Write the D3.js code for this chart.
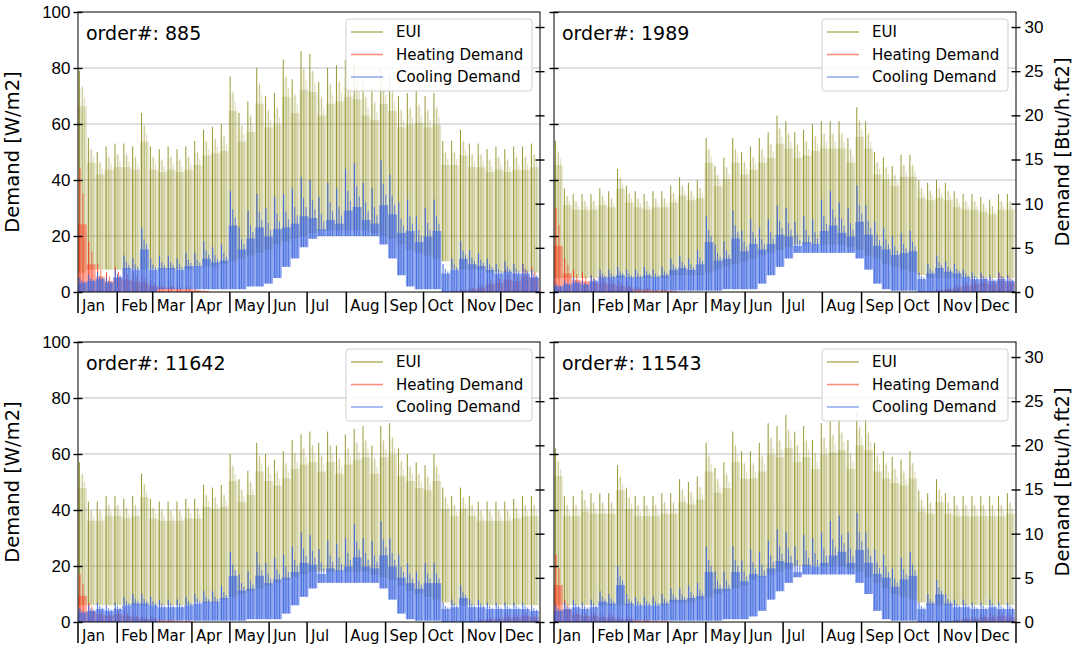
<!DOCTYPE html>
<html lang="en">
<head>
<meta charset="UTF-8">
<title>Hourly demand profiles</title>
<script src="https://d3js.org/d3.v7.min.js"></script>
<style>
  body { margin: 0; background: #fff; }
  svg { font-family: "DejaVu Sans", sans-serif; }
  .grid line { stroke: #b0b0b0; stroke-opacity: 0.8; }
</style>
</head>
<body>
<div id="chart"></div>
<script>
// month ticks (day of year) and labels
const monthStarts = [0, 31, 59, 90, 120, 151, 181, 212, 243, 273, 304, 334, 365];
const monthNames = ["Jan", "Feb", "Mar", "Apr", "May", "Jun", "Jul", "Aug", "Sep", "Oct", "Nov", "Dec"];
const wTicks = [0, 20, 40, 60, 80, 100];
const btuTicks = [0, 5, 10, 15, 20, 25, 30];
const W_PER_BTU = 3.1546;
const seriesNames = ["EUI", "Heating Demand", "Cooling Demand"];

// weekly values (52 weeks), W/m2
const order885 = "885";
const euiHi885 = [79,55,50,52,53,53,52,64,52,51,52,51,52,54,58,59,60,77,64,68,80,70,71,83,76,86,85,75,80,81,83,82,75,73,80,77,70,71,72,70,71,54,54,58,53,53,51,52,51,52,52,53];
const euiLo885 = [7,8,8,8,8,8,8,8,8,8,8,8,8,9,9,9,10,11,12,13,14,15,17,18,19,20,21,22,22,22,22,22,22,21,20,19,17,15,14,13,12,11,8,8,8,8,7,7,7,7,7,7];
const heatHi885 = [44,18,10,7,9,8,7,6,4,3,3,2,2,1,0.5,0,0,0,0,0,0,0,0,0,0,0,0,0,0,0,0,0,0,0,0,0,0,0,0,0,0,0,0.5,1,2,3,5,6,8,7,10,9];
const coolHi885 = [5,6,7,5,8,13,12,23,12,13,13,12,14,14,18,16,17,36,23,29,35,30,34,35,37,41,40,34,39,37,44,46,39,37,47,42,32,33,27,30,33,10,12,18,15,14,12,10,11,10,10,8];
const coolLo885 = [0,0,0,0,0,0,0,0,0,1,1,1,1,1,1,1,1,1,1,2,2,3,5,9,12,16,19,20,20,20,20,20,20,20,17,12,6,2,1,1,1,0,0,0,0,0,0,0,0,0,0,0];

const order1989 = "1989";
const euiHi1989 = [54,37,35,35,35,37,36,44,38,36,35,36,36,38,41,39,40,55,45,48,55,50,52,55,57,63,61,57,58,60,61,61,61,55,66,61,50,48,45,49,49,40,39,40,39,36,35,35,34,33,35,35];
const euiLo1989 = [5,5,5,5,5,5,5,5,5,5,5,5,5,6,6,6,6,7,8,9,10,11,12,13,14,15,16,17,17,17,17,17,17,16,15,13,12,10,9,8,7,6,5,5,5,5,5,5,5,5,5,5];
const heatHi1989 = [30,12,8,7,6,6,5,4,3,2,2,1,1,0.5,0,0,0,0,0,0,0,0,0,0,0,0,0,0,0,0,0,0,0,0,0,0,0,0,0,0,0,0,0,1,2,3,4,5,6,5,7,6];
const coolHi1989 = [3,4,5,4,6,8,8,9,8,8,9,8,9,12,13,12,15,27,17,18,29,22,26,23,26,31,30,25,27,26,33,36,32,30,38,31,25,23,20,21,22,7,10,13,11,10,8,7,7,6,7,6];
const coolLo1989 = [0,0,0,0,0,0,0,0,0,0.5,0.5,0.5,0.5,0.5,0.5,0.5,0.5,0.5,0.5,1,1,1,1,3,6,9,12,14,14,14,14,14,14,14,12,8,3,1,0.5,0.5,0.5,0,0,0,0,0,0,0,0,0,0,0];

const order11642 = "11642";
const euiHi11642 = [57,43,43,45,45,44,45,53,44,43,43,43,44,44,49,48,49,60,51,54,64,60,58,61,65,67,68,64,68,63,67,69,70,63,70,71,62,60,57,56,60,48,45,48,45,43,43,43,43,44,45,45];
const euiLo11642 = [6,6,6,6,6,6,6,6,6,6,6,6,6,7,7,7,8,9,10,11,12,13,14,15,16,17,18,18,18,18,18,18,18,17,16,15,13,11,10,9,8,7,6,6,6,6,6,6,6,6,6,6];
const heatHi11642 = [17,7,5,4,5,4,3,2,2,1,1,0.5,0.5,0,0,0,0,0,0,0,0,0,0,0,0,0,0,0,0,0,0,0,0,0,0,0,0,0,0,0,0,0,0,0,0,1,2,2,3,3,4,3];
const coolHi11642 = [5,6,7,6,7,9,10,10,9,8,8,8,9,10,11,11,13,25,17,18,25,21,23,24,27,32,31,26,29,28,30,35,30,29,36,30,24,21,18,21,21,7,8,13,8,8,7,7,7,7,7,6];
const coolLo11642 = [0,0,0,0,0,0,0,0,0,0.5,0.5,0.5,0.5,0.5,0.5,0.5,0.5,0.5,0.5,1,1,1,1,3,6,9,12,14,14,14,14,14,14,14,12,8,3,1,0.5,0.5,0.5,0,0,0,0,0,0,0,0,0,0,0];

const order11543 = "11543";
const euiHi11543 = [62,45,45,47,46,46,46,56,48,45,45,45,46,46,51,50,52,64,55,57,68,61,61,64,71,70,74,68,70,65,71,72,73,65,75,73,64,61,59,58,61,47,46,51,46,45,45,45,45,45,45,46];
const euiLo11543 = [6,6,6,6,6,6,6,6,6,6,6,6,6,7,7,7,8,9,10,11,12,13,15,16,17,18,19,20,20,20,20,20,20,19,18,16,14,12,10,9,8,7,6,6,6,6,6,6,6,6,6,6];
const heatHi11543 = [24,8,5,4,4,3,3,2,2,1,1,0.5,0.5,0,0,0,0,0,0,0,0,0,0,0,0,0,0,0,0,0,0,0,0,0,0,0,0,0,0,0,0,0,0,0,0,1,2,2,3,3,4,3];
const coolHi11543 = [6,7,8,7,8,11,10,20,10,9,9,9,10,12,12,13,14,27,18,18,27,22,26,25,29,33,32,27,31,30,32,36,38,32,39,32,26,24,19,23,25,7,10,15,10,8,8,7,7,8,7,7];
const coolLo11543 = [0,0,0,0,0,0,0,0,0,0.5,0.5,0.5,0.5,0.5,0.5,0.5,0.5,0.5,0.5,1,1,1,2,4,8,11,14,16,17,17,17,17,17,17,14,10,4,1,0.5,0.5,0.5,0,0,0,0,0,0,0,0,0,0,0];

// layout
const panels = [
  {order: order885,   euiHi: euiHi885,   euiLo: euiLo885,   heat: heatHi885,   coolHi: coolHi885,   coolLo: coolLo885,   x: 78,  y: 12,  left: true},
  {order: order1989,  euiHi: euiHi1989,  euiLo: euiLo1989,  heat: heatHi1989,  coolHi: coolHi1989,  coolLo: coolLo1989,  x: 554, y: 12,  left: false},
  {order: order11642, euiHi: euiHi11642, euiLo: euiLo11642, heat: heatHi11642, coolHi: coolHi11642, coolLo: coolLo11642, x: 78,  y: 342, left: true},
  {order: order11543, euiHi: euiHi11543, euiLo: euiLo11543, heat: heatHi11543, coolHi: coolHi11543, coolLo: coolLo11543, x: 554, y: 342, left: false}
];
const W = 462, H = 280;
const colEUI = "#808000", colHeat = "#ff3c20", colCool = "#4169e1";

const svg = d3.select("#chart").append("svg")
  .attr("width", 1081)
  .attr("height", 648);

const x = d3.scaleLinear().domain([0, 365]).range([0, W]);
const y = d3.scaleLinear().domain([0, 100]).range([H, 0]);
const yBtu = d3.scaleLinear().domain([0, 100 / W_PER_BTU]).range([H, 0]);

const band = d3.area()
  .x(d => x(d.day))
  .y0(d => y(d.lo))
  .y1(d => y(d.hi));

// band covering days a..b of week i
function weekBand(i, a, b, lo, hi) {
  return band([{day: 7 * i + a, lo: lo, hi: hi}, {day: 7 * i + b, lo: lo, hi: hi}]);
}

// vertical spikes inside each week: [day offset, share of the weekly peak, opacity, width]
function spikes(parent, weeks, lo, hi, color, marks) {
  marks.forEach(m => {
    parent.append("g").selectAll("line").data(weeks).join("line")
      .attr("x1", i => x(7 * i + m[0])).attr("x2", i => x(7 * i + m[0]))
      .attr("y1", i => y(lo(i))).attr("y2", i => y(hi(i) * m[1]))
      .attr("stroke", color).attr("stroke-opacity", m[2]).attr("stroke-width", m[3]);
  });
}

panels.forEach(p => {
  const g = svg.append("g").attr("transform", `translate(${p.x},${p.y})`);

  g.append("defs").append("clipPath").attr("id", "clip" + p.order)
    .append("rect").attr("width", W).attr("height", H);

  // grid
  g.append("g").attr("class", "grid")
    .selectAll("line").data([20, 40, 60, 80]).join("line")
    .attr("x1", 0).attr("x2", W)
    .attr("y1", d => y(d)).attr("y2", d => y(d));

  const plot = g.append("g").attr("clip-path", `url(#clip${p.order})`);
  const weeks = d3.range(p.euiHi.length);

  // EUI
  plot.append("g").selectAll("path").data(weeks).join("path")
    .attr("d", i => weekBand(i, 0, 7, p.euiLo[i], p.euiHi[i] * 0.84))
    .attr("fill", colEUI).attr("fill-opacity", 0.2);
  plot.append("g").selectAll("path").data(weeks).join("path")
    .attr("d", i => weekBand(i, 0.6, 4.6, p.euiLo[i], p.euiHi[i] * 0.92))
    .attr("fill", colEUI).attr("fill-opacity", 0.08);
  spikes(plot, weeks, i => p.euiLo[i], i => p.euiHi[i], colEUI,
    [[1.2, 1, 0.8, 1], [3.4, 0.93, 0.5, 0.8], [5.2, 0.88, 0.35, 0.8]]);

  // heating
  const hw = weeks.filter(i => p.heat[i] > 0);
  plot.append("g").selectAll("path").data(hw).join("path")
    .attr("d", i => weekBand(i, 0, 7, 0, p.heat[i] * 0.55))
    .attr("fill", colHeat).attr("fill-opacity", 0.45);
  spikes(plot, hw, i => 0, i => p.heat[i], colHeat,
    [[1.5, 1, 0.9, 1.1], [4, 0.8, 0.7, 1]]);

  // cooling
  plot.append("g").selectAll("path").data(weeks).join("path")
    .attr("d", i => weekBand(i, 0, 7, p.coolLo[i], p.coolHi[i] * 0.66))
    .attr("fill", colCool).attr("fill-opacity", 0.6);
  spikes(plot, weeks, i => p.coolLo[i], i => p.coolHi[i], colCool,
    [[1.4, 1, 0.95, 1.1], [3.2, 0.82, 0.85, 1], [5.2, 0.74, 0.8, 1]]);

  // frame
  g.append("rect").attr("width", W).attr("height", H)
    .attr("fill", "none").attr("stroke", "#000").attr("stroke-width", 1);

  // left axis (W/m2), labels only on left column
  const la = g.append("g").call(d3.axisLeft(y).tickValues(wTicks).tickSize(4.5).tickPadding(3)
    .tickFormat(p.left ? d3.format("d") : ""));
  la.select(".domain").remove();
  la.selectAll(".tick line").attr("x1", 4.5).attr("stroke-width", 1.4);
  la.selectAll("text").attr("font-size", 17).attr("fill", "#000");

  // right axis (Btu/h.ft2), labels only on right column
  const ra = g.append("g").attr("transform", `translate(${W},0)`)
    .call(d3.axisRight(yBtu).tickValues(btuTicks).tickSize(4.5).tickPadding(4)
      .tickFormat(p.left ? "" : d3.format("d")));
  ra.select(".domain").remove();
  ra.selectAll(".tick line").attr("x1", -4.5).attr("stroke-width", 1.4);
  ra.selectAll("text").attr("font-size", 17).attr("fill", "#000");

  // month ticks
  const mx = g.append("g").attr("transform", `translate(0,${H})`);
  mx.selectAll("line").data(monthStarts).join("line")
    .attr("x1", d => x(d)).attr("x2", d => x(d))
    .attr("y1", 0).attr("y2", 21)
    .attr("stroke", "#000").attr("stroke-width", 1.5);
  mx.selectAll("text").data(monthNames).join("text")
    .attr("x", (d, i) => x(monthStarts[i]) + 4)
    .attr("y", 19)
    .attr("font-size", 15)
    .text(d => d);

  // axis titles
  if (p.left) {
    g.append("text")
      .attr("transform", `translate(-59,${H / 2}) rotate(-90)`)
      .attr("text-anchor", "middle")
      .attr("font-size", 19.5)
      .text("Demand [W/m2]");
  } else {
    g.append("text")
      .attr("transform", `translate(${W + 53},${H / 2}) rotate(-90)`)
      .attr("text-anchor", "middle")
      .attr("font-size", 19.5)
      .text("Demand [Btu/h.ft2]");
  }

  // order label
  g.append("text").attr("x", 8).attr("y", 28)
    .attr("font-size", 19)
    .text("order#: " + p.order);

  // legend
  const lg = g.append("g").attr("transform", `translate(${W - 194},7)`);
  lg.append("rect").attr("width", 186).attr("height", 72).attr("rx", 3)
    .attr("fill", "#fff").attr("fill-opacity", 0.85)
    .attr("stroke", "#d0d0d0");
  const legCols = [colEUI, colHeat, colCool];
  seriesNames.forEach((s, i) => {
    const ly = 13 + i * 22.5;
    lg.append("line").attr("x1", 5).attr("x2", 37).attr("y1", ly).attr("y2", ly)
      .attr("stroke", legCols[i]).attr("stroke-opacity", 0.6).attr("stroke-width", 1.5);
    lg.append("text").attr("x", 50).attr("y", ly + 5)
      .attr("font-size", 15)
      .text(s);
  });
});
</script>
</body>
</html>
